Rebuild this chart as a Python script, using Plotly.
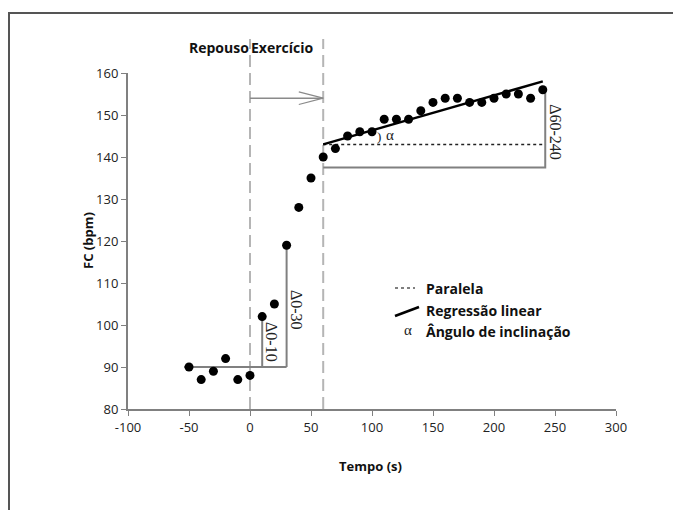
import plotly.graph_objects as go

# ---- data ----
rest_t = [-50, -40, -30, -20, -10, 0]
rest_fc = [90, 87, 89, 92, 87, 88]
ex_t = [10, 20, 30, 40, 50, 60, 70, 80, 90, 100, 110, 120, 130, 140, 150,
        160, 170, 180, 190, 200, 210, 220, 230, 240]
ex_fc = [102, 105, 119, 128, 135, 140, 142, 145, 146, 146, 149, 149, 149, 151,
         153, 154, 154, 153, 153, 154, 155, 155, 154, 156]
reg_t = [60, 240]
reg_fc = [143, 158]
baseline_fc = 90
base_t = [-54, 30]
delta_0_10 = [10, 102]
delta_0_30 = [30, 119]
delta_60_240_t = [60, 242]
delta_60_240_low = 137.5
delta_60_240_high = 156
rest_end, ex_end = 0, 60
arrow_fc = 154
x_ticks = [-100, -50, 0, 50, 100, 150, 200, 250, 300]
x_ticklabels = ["-100", "-50", "0", "50", "100", "150", "200", "250", "300"]
y_ticks = [80, 90, 100, 110, 120, 130, 140, 150, 160]

# page body has an 8px margin, so the figure is 8px smaller and shifted
W, H = 673, 502
L, R, T, B = 120, 65, 65, 101
PL, PT = 128, 73          # plot-area top-left in screen pixels
pw, ph = W - L - R, H - T - B


def px(xp):
    return (xp - PL) / pw


def py(yp):
    return (PT + ph - yp) / ph


GRAY = "#808080"
FONT = "Open Sans"
SERIF = "Liberation Serif"

fig = go.Figure()

fig.add_trace(go.Scatter(x=base_t, y=[baseline_fc, baseline_fc], mode="lines",
                         line=dict(color=GRAY, width=2), hoverinfo="skip"))
fig.add_trace(go.Scatter(x=[delta_0_10[0], delta_0_10[0]], y=[baseline_fc, delta_0_10[1]],
                         mode="lines", line=dict(color=GRAY, width=2), hoverinfo="skip"))
fig.add_trace(go.Scatter(x=[delta_0_30[0], delta_0_30[0]], y=[baseline_fc, delta_0_30[1]],
                         mode="lines", line=dict(color=GRAY, width=2), hoverinfo="skip"))
fig.add_trace(go.Scatter(x=[delta_60_240_t[0], delta_60_240_t[1], delta_60_240_t[1]],
                         y=[delta_60_240_low, delta_60_240_low, delta_60_240_high],
                         mode="lines", line=dict(color=GRAY, width=2), hoverinfo="skip"))
fig.add_trace(go.Scatter(x=[reg_t[0], delta_60_240_t[1]], y=[reg_fc[0], reg_fc[0]],
                         mode="lines", line=dict(color="#222", width=1.5, dash="dot"),
                         hoverinfo="skip"))
fig.add_trace(go.Scatter(x=reg_t, y=reg_fc, mode="lines",
                         line=dict(color="black", width=2.5), hoverinfo="skip"))
head_len = 20
head_w = 1.5
fig.add_trace(go.Scatter(x=[rest_end, ex_end], y=[arrow_fc, arrow_fc], mode="lines",
                         line=dict(color="#8a8a8a", width=1.5), hoverinfo="skip"))
fig.add_trace(go.Scatter(x=[ex_end - head_len, ex_end, ex_end - head_len],
                         y=[arrow_fc + head_w, arrow_fc, arrow_fc - head_w], mode="lines",
                         line=dict(color="#8a8a8a", width=1.2), hoverinfo="skip"))
fig.add_trace(go.Scatter(x=rest_t + ex_t, y=rest_fc + ex_fc, mode="markers",
                         marker=dict(color="black", size=9), hoverinfo="skip"))

shapes = []
for xv in (rest_end, ex_end):
    shapes.append(dict(type="line", xref="x", yref="paper", x0=xv, x1=xv, y0=0, y1=py(39),
                       line=dict(color="#b5b5b5", width=2, dash="12px,6px"), layer="below"))
shapes.append(dict(type="rect", xref="paper", yref="paper", x0=px(9), x1=px(700),
                   y0=py(530), y1=py(13), line=dict(color="#555", width=2)))
shapes.append(dict(type="line", xref="paper", yref="paper", x0=px(395), x1=px(415),
                   y0=py(288), y1=py(288), line=dict(color="#555", width=1.3, dash="dot")))
shapes.append(dict(type="line", xref="paper", yref="paper", x0=px(395), x1=px(419),
                   y0=py(316), y1=py(307), line=dict(color="black", width=2.5)))

ann = []
ann.append(dict(x=rest_end, y=py(47), xref="x", yref="paper", text="<b>Repouso</b>",
                showarrow=False, xanchor="right", xshift=1, yanchor="middle",
                font=dict(family=FONT, size=14, color="#111")))
ann.append(dict(x=rest_end, y=py(47), xref="x", yref="paper", text="<b>Exercício</b>",
                showarrow=False, xanchor="left", xshift=-1, yanchor="middle",
                font=dict(family=FONT, size=14, color="#111")))
ann.append(dict(x=17, y=96, xref="x", yref="y", text="Δ0-10", textangle=90,
                xanchor="center", yanchor="middle",
                showarrow=False, font=dict(family=SERIF, size=16, color="#222")))
ann.append(dict(x=38, y=103.5, xref="x", yref="y", text="Δ0-30", textangle=90,
                xanchor="center", yanchor="middle",
                showarrow=False, font=dict(family=SERIF, size=16, color="#222")))
ann.append(dict(x=250.5, y=146, xref="x", yref="y", text="Δ60-240", textangle=90,
                xanchor="center", yanchor="middle",
                showarrow=False, font=dict(family=SERIF, size=16, color="#222")))
ann.append(dict(x=114.5, y=145.3, xref="x", yref="y", text="α", xanchor="center",
                showarrow=False, font=dict(family=SERIF, size=15, color="#222")))
ann.append(dict(x=105.5, y=145, xref="x", yref="y", text=")", xanchor="center",
                showarrow=False, font=dict(family=SERIF, size=13, color="#222")))
for ytxt, txt in ((288, "Paralela"), (310, "Regressão linear"), (331, "Ângulo de inclinação")):
    ann.append(dict(x=px(424), y=py(ytxt), xref="paper", yref="paper", text="<b>%s</b>" % txt,
                    showarrow=False, xanchor="left", yanchor="middle",
                    font=dict(family=FONT, size=14, color="#111")))
ann.append(dict(x=px(408), y=py(330), xref="paper", yref="paper", text="α",
                xanchor="center", yanchor="middle",
                showarrow=False, font=dict(family=SERIF, size=15, color="#222")))
ann.append(dict(x=px(88), y=0.5, xref="paper", yref="paper", text="<b>FC (bpm)</b>",
                textangle=-90, xanchor="center", yanchor="middle",
                showarrow=False, font=dict(family=FONT, size=13, color="#111")))
ann.append(dict(x=px(370), y=py(466), xref="paper", yref="paper", text="<b>Tempo (s)</b>",
                xanchor="center", yanchor="middle",
                showarrow=False, font=dict(family=FONT, size=13, color="#111")))

fig.update_layout(
    width=W, height=H, margin=dict(l=L, r=R, t=T, b=B),
    paper_bgcolor="white", plot_bgcolor="white", showlegend=False,
    shapes=shapes, annotations=ann,
    xaxis=dict(range=[-100, 300], tickvals=x_ticks, ticktext=x_ticklabels,
               ticks="outside", ticklen=5,
               tickcolor=GRAY, showline=True, linecolor=GRAY, linewidth=2,
               showgrid=False, zeroline=False,
               tickfont=dict(family=FONT, size=13, color="#222")),
    yaxis=dict(range=[80, 160], tickvals=y_ticks, ticks="outside", ticklen=5,
               tickcolor=GRAY, showline=True, linecolor=GRAY, linewidth=2,
               showgrid=False, zeroline=False,
               tickfont=dict(family=FONT, size=13, color="#222")),
)

fig.write_html("out.html")
